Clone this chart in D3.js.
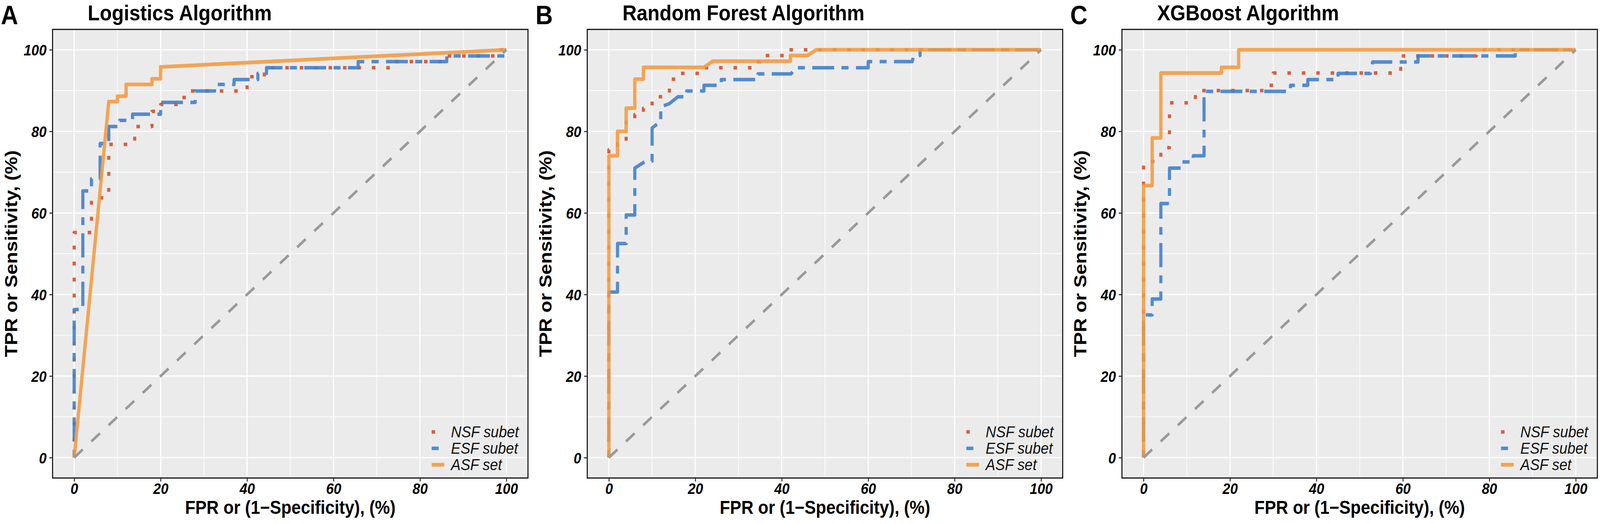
<!DOCTYPE html>
<html>
<head>
<meta charset="utf-8">
<script src="https://cdn.jsdelivr.net/npm/d3@7"></script>
<style>
  html, body { margin: 0; padding: 0; background: #fff; overflow: hidden; }
  #chart { width: 100vw; height: 100vh; }
  svg { display: block; }
</style>
</head>
<body>
<div id="chart"></div>
<script>
// ROC curves: three algorithms x three feature sets

const LETTERS = ['A', 'B', 'C'];
const TITLES = ['Logistics Algorithm', 'Random Forest Algorithm', 'XGBoost Algorithm'];
const SERIES = ['NSF subet', 'ESF subet', 'ASF set'];
const TICKS = [0, 20, 40, 60, 80, 100];
const MINOR = [10, 30, 50, 70, 90];
const X_TITLE = 'FPR or (1\u2212Specificity), (%)';
const Y_TITLE = 'TPR or Sensitivity, (%)';

// [FPR %, TPR %] vertices
const logNSF = [[0,0],[0,55.2],[4,55.2],[4,63.7],[8,63.7],[8,76.8],[14,76.8],[14,81.2],[18,81.2],[18,84.9],
  [20,84.9],[20,86.6],[24,86.6],[24,88.3],[26,88.3],[26,89.9],[40,89.9],[40,93.4],[44,93.4],[44,95.6],
  [74,95.6],[74,97.1],[86,97.1],[86,98.5],[98,98.5],[98,100],[100,100]];
const logESF = [[0,0],[0,36.3],[2,36.3],[2,65.4],[4,65.4],[4,68.4],[6,68.4],[6,77],[8,77],[8,81.2],
  [10.5,81.2],[10.5,82.7],[13.5,82.7],[13.5,84.2],[20,84.2],[20,87.1],[28,87.1],[28,89.9],[32.5,89.9],
  [32.5,91.5],[37,91.5],[37,92.7],[42.5,92.7],[42.5,94.2],[44.5,94.2],[44.5,95.6],[65.7,95.6],[65.7,97.1],
  [86.2,97.1],[86.2,98.5],[99.6,98.5],[99.6,100]];
const logASF = [[0,0],[8,87.3],[10,87.3],[10,88.6],[12,88.6],[12,91.5],[18,91.5],[18,92.9],[20,92.9],
  [20,95.8],[100,100]];

const rfNSF = [[0,0],[0,75.5],[2,75.5],[2,77],[4,77],[4,82.7],[6,82.7],[6,84.1],[8,84.1],[8,85.7],
  [10,85.7],[10,88.5],[14,88.5],[14,92.8],[16,92.8],[16,94.2],[22,94.2],[22,95.6],[33,95.6],[33,97.1],
  [35,97.1],[35,98.6],[41,98.6],[41,100],[100,100]];
const rfESF = [[0,0],[0,40.6],[2,40.6],[2,52.5],[4,52.5],[4,59.5],[6,59.5],[6,71],[8.5,72.7],[10,72.7],
  [10,80.8],[11.5,82.1],[12,82.1],[12,86],[14,86.8],[16,88.5],[18,88.5],[18,89.9],[22,89.9],[22,91.3],
  [26,91.3],[26,92.7],[34.5,92.7],[34.5,94.1],[42.2,94.1],[43,95.6],[60,95.6],[60,97.1],[70.2,97.1],
  [70.5,98.6],[72,98.6],[72,100],[100,100]];
const rfASF = [[0,0],[0,74],[2,74],[2,80],[4,80],[4,85.7],[6,85.7],[6,92.8],[8,92.8],[8,95.7],[22,95.7],
  [24,97.2],[42,97.2],[42,98.6],[46,98.6],[48,100],[100,100]];

const xgbNSF = [[0,0],[0,72.6],[4,72.6],[4,76],[6,76],[6,87],[12,87],[12,90],[28,90],[28,91.3],[30,91.3],
  [30,94.3],[59.5,94.3],[59.5,98.5],[77,98.5],[77,100],[100,100]];
const xgbESF = [[0,0],[0,35],[2,35],[2,38.9],[4,38.9],[4,62.3],[6,62.3],[6,71],[9,71],[9,72.5],[11.5,72.5],
  [11.5,74],[14,74],[14,89.8],[34,89.8],[34,91.3],[38,91.3],[38,92.7],[45,92.7],[45,94.2],[52.5,94.2],
  [53,97],[63.5,97],[63.5,98.5],[86,98.5],[86,100],[100,100]];
const xgbASF = [[0,0],[0,66.7],[2,66.7],[2,78.4],[4,78.4],[4,94.3],[18,94.3],[18,95.7],[22,95.7],[22,100],
  [100,100]];

const DIAGONAL = [[0, 0], [100, 100]];

const CURVES = [
  [logNSF, logESF, logASF],
  [rfNSF, rfESF, rfASF],
  [xgbNSF, xgbESF, xgbASF],
];

// Styling
const W = 4550, H = 1342;
const FONT = '"Liberation Sans", Arial, Helvetica, sans-serif';
const PANEL_LEFT = [149.5, 1670, 3190.5];
const PANEL_W = 1352;
const PANEL_TOP = 75.3, PANEL_BOTTOM = 1224.2;
const STYLES = [
  { color: '#d3512f', width: 9, dash: '10 31', opacity: 0.9 },
  { color: '#4281cb', width: 9, dash: '20 21 62 21', opacity: 0.9 },
  { color: '#f29a3f', width: 9.5, dash: null, opacity: 0.88 },
];

// viewBox stretched over the whole window so the figure always fills it
const svg = d3.select('#chart').append('svg')
  .attr('width', '100%')
  .attr('height', '100%')
  .attr('viewBox', `0 0 ${W} ${H}`)
  .attr('preserveAspectRatio', 'none')
  .style('font-family', FONT);

svg.append('rect').attr('width', W).attr('height', H).attr('fill', '#fff');

const line = (x, y) => d3.line().x(d => x(d[0])).y(d => y(d[1]));

PANEL_LEFT.forEach((left, p) => {
  const x = d3.scaleLinear().domain([-5, 105]).range([left, left + PANEL_W]);
  const y = d3.scaleLinear().domain([-5, 105]).range([PANEL_BOTTOM, PANEL_TOP]);
  const g = svg.append('g').attr('class', 'panel');

  // Background + grid
  g.append('rect')
    .attr('x', x(-5)).attr('y', y(105))
    .attr('width', x(105) - x(-5)).attr('height', y(-5) - y(105))
    .attr('fill', '#ebebeb');

  const grid = g.append('g').attr('stroke', '#fff');
  grid.selectAll('.vminor').data(MINOR).join('line')
    .attr('x1', d => x(d)).attr('x2', d => x(d))
    .attr('y1', y(105)).attr('y2', y(-5)).attr('stroke-width', 1.8);
  grid.selectAll('.hminor').data(MINOR).join('line')
    .attr('y1', d => y(d)).attr('y2', d => y(d))
    .attr('x1', x(-5)).attr('x2', x(105)).attr('stroke-width', 1.8);
  grid.selectAll('.vmajor').data(TICKS).join('line')
    .attr('x1', d => x(d)).attr('x2', d => x(d))
    .attr('y1', y(105)).attr('y2', y(-5)).attr('stroke-width', 3.2);
  grid.selectAll('.hmajor').data(TICKS).join('line')
    .attr('y1', d => y(d)).attr('y2', d => y(d))
    .attr('x1', x(-5)).attr('x2', x(105)).attr('stroke-width', 3.2);

  // Curves: NSF, ESF, ASF
  const path = line(x, y);
  CURVES[p].forEach((pts, i) => {
    const s = STYLES[i];
    g.append('path')
      .attr('d', path(pts))
      .attr('fill', 'none')
      .attr('stroke', s.color)
      .attr('stroke-width', s.width)
      .attr('stroke-dasharray', s.dash)
      .attr('stroke-linejoin', 'round')
      .attr('stroke-linecap', 'butt')
      .attr('opacity', s.opacity);
  });

  // Chance line
  g.append('path')
    .attr('d', path(DIAGONAL))
    .attr('fill', 'none')
    .attr('stroke', '#9a9a9a')
    .attr('stroke-width', 7)
    .attr('stroke-dasharray', '32 32');

  // Border
  g.append('rect')
    .attr('x', x(-5)).attr('y', y(105))
    .attr('width', x(105) - x(-5)).attr('height', y(-5) - y(105))
    .attr('fill', 'none').attr('stroke', '#111').attr('stroke-width', 3);

  // Axes
  const xAxis = g.append('g')
    .attr('transform', `translate(0,${y(-5)})`)
    .call(d3.axisBottom(x).tickValues(TICKS).tickSize(9));
  const yAxis = g.append('g')
    .attr('transform', `translate(${x(-5)},0)`)
    .call(d3.axisLeft(y).tickValues(TICKS).tickSize(9).tickPadding(8));
  [xAxis, yAxis].forEach(ax => {
    ax.select('.domain').remove();
    ax.selectAll('.tick line').attr('stroke', '#222').attr('stroke-width', 2.6);
    ax.selectAll('.tick text')
      .attr('fill', '#000')
      .style('font-family', FONT)
      .style('font-size', '39px')
      .style('font-weight', 'bold')
      .style('font-style', 'italic');
  });
  xAxis.selectAll('.tick text').attr('y', 41).attr('dy', 0);
  yAxis.selectAll('.tick text').attr('dy', '0.36em');

  // Axis titles
  g.append('text')
    .attr('x', (x(-5) + x(105)) / 2).attr('y', 1316)
    .attr('text-anchor', 'middle')
    .style('font-size', '48px').style('font-weight', 'bold')
    .text(X_TITLE);
  g.append('text')
    .attr('transform', `translate(${x(-5) - 101},${(y(-5) + y(105)) / 2}) rotate(-90)`)
    .attr('text-anchor', 'middle')
    .style('font-size', '50px').style('font-weight', 'bold')
    .text(Y_TITLE);

  // Panel title + letter
  g.append('text')
    .attr('x', x(-5) + 100).attr('y', 52)
    .style('font-size', '56px').style('font-weight', 'bold')
    .text(TITLES[p]);
  g.append('text')
    .attr('x', x(-5) - 147).attr('y', 62)
    .style('font-size', '68px').style('font-weight', 'bold')
    .text(LETTERS[p]);

  // Legend
  const legend = g.append('g')
    .attr('transform', `translate(${x(105) - 274},${y(-5)})`);
  SERIES.forEach((name, i) => {
    const s = STYLES[i];
    const ky = -118 + i * 42;
    legend.append('line')
      .attr('x1', 0).attr('x2', 36).attr('y1', ky).attr('y2', ky)
      .attr('stroke', s.color)
      .attr('stroke-width', s.width)
      .attr('stroke-dasharray', s.dash)
      .attr('opacity', s.opacity);
    legend.append('text')
      .attr('x', 55).attr('y', ky + 14)
      .style('font-size', '41px').style('font-style', 'italic')
      .attr('fill', '#111')
      .text(name);
  });
});
</script>
</body>
</html>
